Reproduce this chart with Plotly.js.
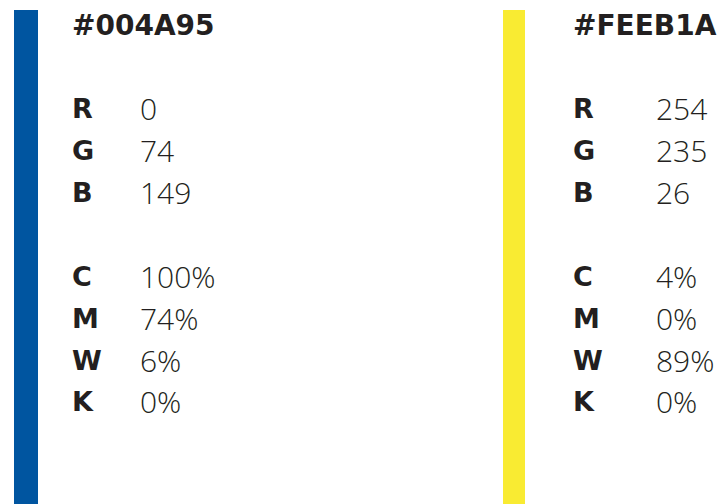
<!DOCTYPE html>
<html>
<head>
<meta charset="utf-8">
<script src="https://cdn.plot.ly/plotly-3.0.1.min.js"></script>
<style>html,body{margin:0;padding:0;background:#fff;}#chart{width:727px;height:504px;}</style>
</head>
<body>
<div id="chart"></div>
<script>
// Data
const hexCodes = ['#004A95', '#FEEB1A'];
const swatchColors = ['#0055A0', '#F9EB32'];
const channels = ['R', 'G', 'B', 'C', 'M', 'W', 'K'];
const blueValues = ['0', '74', '149', '100%', '74%', '6%', '0%'];
const yellowValues = ['254', '235', '26', '4%', '0%', '89%', '0%'];
const columnValues = [blueValues, yellowValues];

// Layout constants
const barX = [[14, 38], [503, 525]];
const labelX = [70, 571];
const valueX = [138, 654];
const titleY = 25;
const rowY = [108, 150, 192, 276, 318, 360, 401];
const textColor = '#231f20';

const shapes = [];
const annotations = [];
hexCodes.forEach((hex, i) => {
  shapes.push({type: 'rect', xref: 'x', yref: 'y', x0: barX[i][0], x1: barX[i][1], y0: 10, y1: 504,
    fillcolor: swatchColors[i], line: {width: 0}, layer: 'below'});
  annotations.push({x: labelX[i], y: titleY, xref: 'x', yref: 'y', text: '<b>' + hex + '</b>', showarrow: false,
    xanchor: 'left', yanchor: 'middle', font: {family: 'DejaVu Sans', size: 28, color: textColor}});
  channels.forEach((ch, j) => {
    annotations.push({x: labelX[i], y: rowY[j], xref: 'x', yref: 'y', text: '<b>' + ch + '</b>', showarrow: false,
      xanchor: 'left', yanchor: 'middle', font: {family: 'DejaVu Sans', size: 27, color: textColor}});
    annotations.push({x: valueX[i], y: rowY[j], xref: 'x', yref: 'y', text: columnValues[i][j], showarrow: false,
      xanchor: 'left', yanchor: 'middle', font: {family: 'Open Sans', size: 30, weight: 300, color: textColor}});
  });
});

const layout = {
  width: 727, height: 504,
  margin: {l: 0, r: 0, t: 0, b: 0},
  paper_bgcolor: '#ffffff', plot_bgcolor: '#ffffff',
  xaxis: {range: [0, 727], visible: false, fixedrange: true},
  yaxis: {range: [504, 0], visible: false, fixedrange: true},
  showlegend: false,
  shapes: shapes,
  annotations: annotations
};
Plotly.newPlot('chart', [], layout, {displayModeBar: false, staticPlot: true});
</script>
</body>
</html>
